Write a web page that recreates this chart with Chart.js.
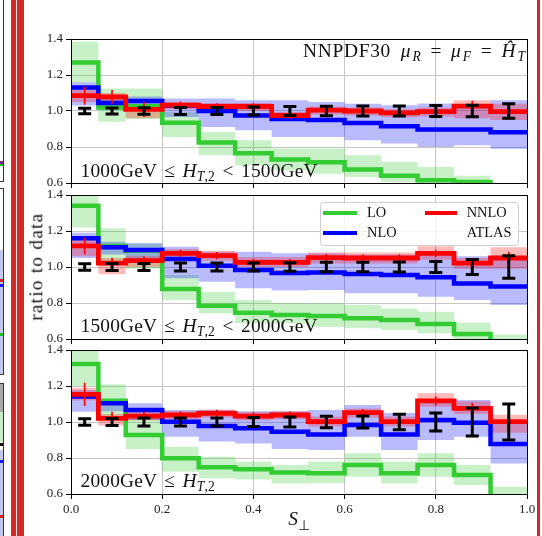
<!DOCTYPE html>
<html><head><meta charset="utf-8">
<script src="https://cdn.jsdelivr.net/npm/chart.js@4.4.1/dist/chart.umd.min.js"></script>
<style>
html,body{margin:0;padding:0;background:#fff;width:542px;height:536px;overflow:hidden;}
canvas{position:absolute;left:0;top:0;z-index:1;}
.t{position:absolute;font-family:"Liberation Serif","Times New Roman",serif;color:#111;white-space:nowrap;line-height:1;z-index:3;}
.sb{font-size:0.7em;position:relative;top:0.36em;}
.ms{margin-left:0.15em;}
.rel{margin:0 0.5em;}
.rel2{margin:0 0.12em;}
.d{position:absolute;z-index:0;}
</style></head>
<body>
<!-- decorations at the page edges -->
<div class="d" style="left:11px;top:0;width:13px;height:536px;background:#d32a25;"></div>
<div class="d" style="left:16px;top:0;width:1px;height:536px;background:#f4dcdc;"></div>
<div class="d" style="left:537px;top:0;width:3px;height:536px;background:#d32a25;"></div>
<div class="d" style="left:3px;top:0;width:1px;height:182px;background:#333;"></div>
<div class="d" style="left:0;top:181px;width:4px;height:1px;background:#333;"></div>
<div class="d" style="left:3px;top:188px;width:1px;height:187px;background:#333;"></div>
<div class="d" style="left:0;top:188px;width:4px;height:1px;background:#333;"></div>
<div class="d" style="left:0;top:374px;width:4px;height:1px;background:#333;"></div>
<div class="d" style="left:3px;top:383px;width:1px;height:153px;background:#333;"></div>
<div class="d" style="left:0;top:383px;width:4px;height:1px;background:#333;"></div>
<div class="d" style="left:0;top:161px;width:3px;height:3px;background:#7a2a8a;"></div>
<div class="d" style="left:0;top:164px;width:3px;height:2px;background:#22bb22;"></div>
<div class="d" style="left:0;top:250px;width:3px;height:124px;background:#c4c8f0;"></div>
<div class="d" style="left:0;top:279px;width:3px;height:3px;background:#e02020;"></div>
<div class="d" style="left:0;top:284px;width:3px;height:3px;background:#1a1aee;"></div>
<div class="d" style="left:0;top:333px;width:3px;height:3px;background:#22bb22;"></div>
<div class="d" style="left:0;top:384px;width:3px;height:28px;background:#a8a8a8;"></div>
<div class="d" style="left:0;top:412px;width:3px;height:30px;background:#c8ecc8;"></div>
<div class="d" style="left:0;top:443px;width:3px;height:3px;background:#111;"></div>
<div class="d" style="left:0;top:450px;width:3px;height:86px;background:#c4c8f0;"></div>
<div class="d" style="left:0;top:460px;width:3px;height:3px;background:#1a1aee;"></div>
<div class="d" style="left:0;top:515px;width:3px;height:3px;background:#e02020;"></div>

<canvas id="c1" width="542" height="536"></canvas>
<canvas id="c2" width="542" height="536"></canvas>
<canvas id="c3" width="542" height="536"></canvas>

<div class="t" style="right:17px;top:40.5px;font-size:19.4px;"><span style="letter-spacing:0.7px;">NNPDF30</span>&nbsp;&nbsp;<i>μ<span class="sb ms">R</span></i><span class="rel">=</span><i>μ<span class="sb ms">F</span></i><span class="rel">=</span><i>Ĥ<span class="sb ms">T</span></i></div>
<div class="t" style="left:80.5px;top:160.5px;font-size:19.4px;letter-spacing:0.2px;">1000GeV <span class="rel2">≤</span> <i>H<span class="sb">T</span></i><span class="sb">,2</span> <span class="rel2">&lt;</span> 1500GeV</div>
<div class="t" style="left:80.5px;top:315.5px;font-size:19.4px;letter-spacing:0.2px;">1500GeV <span class="rel2">≤</span> <i>H<span class="sb">T</span></i><span class="sb">,2</span> <span class="rel2">&lt;</span> 2000GeV</div>
<div class="t" style="left:80.5px;top:470.5px;font-size:19.4px;letter-spacing:0.2px;">2000GeV <span class="rel2">≤</span> <i>H<span class="sb">T</span></i><span class="sb">,2</span></div>
<div class="t" style="left:-64.5px;top:257.3px;width:200px;text-align:center;font-size:19.4px;letter-spacing:1.2px;transform:rotate(-90deg);transform-origin:100px 9.7px;">ratio to data</div>
<div class="t" style="left:199px;top:508.7px;width:200px;text-align:center;font-size:19.4px;"><i>S</i><span class="sb">⊥</span></div>

<div class="t" style="left:320px;top:201.5px;width:197px;height:42.5px;border:1px solid #d0d0d0;border-radius:4px;background:rgba(255,255,255,0.8);z-index:2;"></div>
<div class="d" style="z-index:3;left:323px;top:210.7px;width:34px;height:4px;background:#33cc33;"></div>
<div class="d" style="z-index:3;left:425px;top:210.7px;width:32px;height:4px;background:#ff0000;"></div>
<div class="d" style="z-index:3;left:323px;top:230.7px;width:34px;height:4px;background:#0000ff;"></div>
<div class="t" style="left:367px;top:204.6px;font-size:14.4px;">LO</div>
<div class="t" style="left:466.7px;top:204.6px;font-size:14.4px;">NNLO</div>
<div class="t" style="left:367px;top:224.6px;font-size:14.4px;">NLO</div>
<div class="t" style="left:466.7px;top:224.6px;font-size:14.4px;">ATLAS</div>

<script>
// ---------- data ----------
const edges   = [0, 0.06, 0.12, 0.2, 0.28, 0.36, 0.44, 0.52, 0.6, 0.68, 0.76, 0.84, 0.92, 1.0];
const centers = [0.03, 0.09, 0.16, 0.24, 0.32, 0.40, 0.48, 0.56, 0.64, 0.72, 0.80, 0.88, 0.96];
const xTicks  = [0.0, 0.2, 0.4, 0.6, 0.8, 1.0];
const yTicks  = [0.6, 0.8, 1.0, 1.2, 1.4];
const atlas   = [1, 1, 1, 1, 1, 1, 1, 1, 1, 1, 1, 1, 1];

// 1000 GeV <= HT2 < 1500 GeV
const lo1      = [1.27, 1.02, 1.026, 0.935, 0.825, 0.765, 0.73, 0.715, 0.675, 0.64, 0.615, 0.605, 0.55];
const lo1Low   = [1.16, 0.94, 0.955, 0.856, 0.754, 0.698, 0.671, 0.652, 0.633, 0.606, 0.59, 0.56, 0.5];
const lo1High  = [1.385, 1.125, 1.125, 0.994, 0.883, 0.837, 0.791, 0.791, 0.754, 0.717, 0.689, 0.64, 0.6];
const nlo1     = [1.13, 1.044, 1.056, 1.03, 1.0, 0.975, 0.955, 0.95, 0.933, 0.915, 0.897, 0.897, 0.882];
const nlo1Low  = [1.03, 1.01, 1.02, 0.967, 0.911, 0.893, 0.856, 0.856, 0.837, 0.819, 0.8, 0.81, 0.79];
const nlo1High = [1.16, 1.07, 1.08, 1.069, 1.069, 1.06, 1.06, 1.05, 1.04, 1.032, 1.041, 1.032, 1.06];
const nnlo1    = [1.085, 1.078, 1.009, 1.033, 1.025, 1.025, 0.975, 1.005, 1.0, 0.99, 0.997, 1.027, 0.997];
const nnlo1Low = [1.05, 1.05, 0.96, 1.01, 1.0, 1.0, 0.95, 0.98, 0.975, 0.965, 0.97, 0.96, 0.95];
const nnlo1High= [1.12, 1.10, 1.03, 1.05, 1.045, 1.045, 0.995, 1.025, 1.02, 1.01, 1.02, 1.06, 1.04];
const nnlo1Err = [0.05, 0.038, 0.043, 0.02, 0.018, 0.018, 0.02, 0.02, 0.02, 0.02, 0.02, 0.03, 0.03];
const atlas1Err= [0.015, 0.016, 0.018, 0.02, 0.02, 0.022, 0.025, 0.027, 0.028, 0.028, 0.03, 0.032, 0.04];

// 1500 GeV <= HT2 < 2000 GeV
const lo2      = [1.34, 1.117, 1.09, 0.878, 0.785, 0.746, 0.733, 0.728, 0.715, 0.706, 0.683, 0.628, 0.58];
const lo2Low   = [1.22, 1.03, 0.99, 0.817, 0.743, 0.687, 0.687, 0.668, 0.66, 0.65, 0.632, 0.58, 0.53];
const lo2High  = [1.45, 1.215, 1.13, 0.956, 0.863, 0.817, 0.80, 0.798, 0.789, 0.77, 0.752, 0.69, 0.625];
const nlo2     = [1.16, 1.11, 1.094, 1.044, 1.007, 0.983, 0.967, 0.97, 0.961, 0.956, 0.943, 0.909, 0.891];
const nlo2Low  = [1.05, 1.07, 1.03, 0.937, 0.918, 0.882, 0.87, 0.872, 0.854, 0.854, 0.835, 0.817, 0.789];
const nlo2High = [1.19, 1.14, 1.132, 1.113, 1.085, 1.085, 1.076, 1.076, 1.07, 1.07, 1.07, 1.06, 1.06];
const nnlo2    = [1.117, 1.021, 1.035, 1.076, 1.063, 1.026, 1.026, 1.052, 1.05, 1.05, 1.076, 1.021, 1.05];
const nnlo2Low = [1.06, 0.96, 1.0, 1.045, 1.035, 1.0, 1.0, 1.02, 1.02, 1.02, 1.04, 0.99, 0.99];
const nnlo2High= [1.17, 1.05, 1.06, 1.1, 1.09, 1.055, 1.055, 1.08, 1.08, 1.08, 1.115, 1.05, 1.11];
const nnlo2Err = [0.046, 0.03, 0.025, 0.02, 0.02, 0.018, 0.018, 0.02, 0.02, 0.02, 0.02, 0.02, 0.035];
const atlas2Err= [0.018, 0.02, 0.02, 0.022, 0.022, 0.022, 0.024, 0.026, 0.026, 0.028, 0.03, 0.042, 0.063];

// HT2 >= 2000 GeV
const lo3      = [1.322, 1.118, 0.928, 0.798, 0.748, 0.737, 0.72, 0.715, 0.761, 0.715, 0.761, 0.706, 0.55];
const lo3Low   = [1.2, 1.03, 0.85, 0.724, 0.687, 0.68, 0.659, 0.66, 0.696, 0.659, 0.696, 0.65, 0.5];
const lo3High  = [1.42, 1.21, 1.04, 0.863, 0.807, 0.78, 0.761, 0.78, 0.826, 0.78, 0.826, 0.761, 0.64];
const nlo3     = [1.141, 1.104, 1.067, 1.002, 0.978, 0.965, 0.946, 0.931, 0.983, 0.931, 1.011, 0.996, 0.878];
const nlo3Low  = [1.057, 1.06, 1.011, 0.918, 0.891, 0.88, 0.85, 0.844, 0.918, 0.844, 0.9, 0.918, 0.77];
const nlo3High = [1.178, 1.12, 1.104, 1.067, 1.067, 1.06, 1.06, 1.067, 1.094, 1.05, 1.122, 1.122, 1.0];
const nnlo3    = [1.154, 1.02, 1.033, 1.039, 1.048, 1.033, 1.039, 1.002, 1.052, 1.002, 1.117, 1.076, 1.002];
const nnlo3Low = [1.12, 0.98, 1.01, 1.015, 1.025, 1.01, 1.015, 0.975, 1.025, 0.975, 1.085, 1.045, 0.94];
const nnlo3High= [1.19, 1.045, 1.055, 1.06, 1.07, 1.055, 1.06, 1.03, 1.075, 1.03, 1.16, 1.115, 1.04];
const nnlo3Err = [0.065, 0.037, 0.025, 0.02, 0.02, 0.02, 0.02, 0.02, 0.02, 0.02, 0.025, 0.03, 0.04];
const atlas3Err= [0.018, 0.02, 0.022, 0.022, 0.022, 0.025, 0.028, 0.032, 0.034, 0.043, 0.05, 0.078, 0.1];

// ---------- styling / layout ----------
const FONT = '"Liberation Serif","Times New Roman",serif';
const C_LO = '#33cc33', C_NLO = '#0000ff', C_NNLO = '#ff0000';
const B_LO = 'rgba(50,205,50,0.27)', B_NLO = 'rgba(0,0,255,0.27)', B_NNLO = 'rgba(255,0,0,0.27)';
const PLOT_LEFT = 71, PLOT_RIGHT = 527, Y_AXIS_W = 40;

const panels = [
  {id:'c1', top:39,  bottom:183, xLabels:false, lo:lo1, loL:lo1Low, loH:lo1High, nlo:nlo1, nloL:nlo1Low, nloH:nlo1High, nnlo:nnlo1, nnloL:nnlo1Low, nnloH:nnlo1High, nnloE:nnlo1Err, atE:atlas1Err},
  {id:'c2', top:195, bottom:339, xLabels:false, lo:lo2, loL:lo2Low, loH:lo2High, nlo:nlo2, nloL:nlo2Low, nloH:nlo2High, nnlo:nnlo2, nnloL:nnlo2Low, nnloH:nnlo2High, nnloE:nnlo2Err, atE:atlas2Err},
  {id:'c3', top:350, bottom:494, xLabels:true,  lo:lo3, loL:lo3Low, loH:lo3High, nlo:nlo3, nloL:nlo3Low, nloH:nlo3High, nnlo:nnlo3, nnloL:nnlo3Low, nnloH:nnlo3High, nnloE:nnlo3Err, atE:atlas3Err}
];

function steps(vals){
  return edges.map((e,i)=>({x:e, y:vals[Math.min(i, vals.length-1)]}));
}
function lineDs(label, vals, color, order, width){
  return {label, data:steps(vals), stepped:true, borderColor:color, borderWidth:width, pointRadius:0,
          fill:false, order, clip:0, borderJoinStyle:'miter', borderCapStyle:'butt'};
}
function bandDs(label, vals, color, order, fillTo){
  return {label, data:steps(vals), stepped:true, borderWidth:0, borderColor:'rgba(0,0,0,0)', pointRadius:0,
          backgroundColor:color, fill:fillTo, order, clip:0};
}
const al = v => Math.round(v - 0.5) + 0.5;

const errPlugin = {
  id:'errbars',
  afterDatasetsDraw(chart){
    const ctx = chart.ctx, xs = chart.scales.x, ys = chart.scales.y, a = chart.chartArea;
    ctx.save();
    ctx.beginPath(); ctx.rect(a.left, a.top, a.right - a.left, a.bottom - a.top); ctx.clip();
    chart.data.datasets.forEach(ds => {
      if (!ds.errors) return;
      ds.data.forEach((p, i) => {
        const x = xs.getPixelForValue(p.x);
        const y1 = ys.getPixelForValue(p.y - ds.errors[i]);
        const y2 = ys.getPixelForValue(p.y + ds.errors[i]);
        ctx.strokeStyle = ds.errColor; ctx.lineWidth = ds.errWidth; ctx.lineCap = 'butt';
        ctx.beginPath(); ctx.moveTo(x, y1); ctx.lineTo(x, y2); ctx.stroke();
        if (ds.capHalf > 0) {
          ctx.lineWidth = ds.capWidth;
          ctx.beginPath();
          ctx.moveTo(x - ds.capHalf, y1); ctx.lineTo(x + ds.capHalf, y1);
          ctx.moveTo(x - ds.capHalf, y2); ctx.lineTo(x + ds.capHalf, y2);
          ctx.stroke();
        }
      });
    });
    ctx.restore();
    // frame (spines)
    ctx.save();
    ctx.strokeStyle = '#000'; ctx.lineWidth = 1;
    ctx.strokeRect(al(a.left), al(a.top), al(a.right) - al(a.left), al(a.bottom) - al(a.top));
    ctx.restore();
  }
};

panels.forEach(p => {
  const xH = p.xLabels ? 25 : 6;
  const datasets = [
    lineDs('NNLO', p.nnlo, C_NNLO, 1, 4.8),
    lineDs('NLO',  p.nlo,  C_NLO,  2, 4.5),
    lineDs('LO',   p.lo,   C_LO,   3, 4.5),
    bandDs('NNLO band high', p.nnloH, B_NNLO, 4, '+1'),
    bandDs('NNLO band low',  p.nnloL, B_NNLO, 4, false),
    bandDs('NLO band high',  p.nloH,  B_NLO,  5, '+1'),
    bandDs('NLO band low',   p.nloL,  B_NLO,  5, false),
    bandDs('LO band high',   p.loH,   B_LO,   6, '+1'),
    bandDs('LO band low',    p.loL,   B_LO,   6, false),
    {label:'NNLO stat', type:'scatter', data:centers.map((c,i)=>({x:c, y:p.nnlo[i]})), pointRadius:0, showLine:false,
     errors:p.nnloE, errColor:C_NNLO, errWidth:1.7, capHalf:0, capWidth:0, order:0},
    {label:'ATLAS', type:'scatter', data:centers.map((c,i)=>({x:c, y:atlas[i]})), pointRadius:0, showLine:false,
     errors:p.atE, errColor:'#000', errWidth:3, capHalf:6.5, capWidth:3, order:0}
  ];
  new Chart(document.getElementById(p.id), {
    type:'line',
    data:{datasets},
    plugins:[errPlugin],
    options:{
      responsive:false, animation:false, devicePixelRatio:1, events:[],
      layout:{padding:{left:PLOT_LEFT - Y_AXIS_W, right:542 - PLOT_RIGHT, top:p.top, bottom:536 - p.bottom - xH}},
      plugins:{legend:{display:false}, tooltip:{enabled:false}, filler:{propagate:false}},
      scales:{
        x:{type:'linear', min:0, max:1,
           afterBuildTicks: s => { s.ticks = xTicks.map(v => ({value:v})); },
           afterFit: s => { s.height = xH; },
           ticks:{display:p.xLabels, padding:3, color:'#222', font:{family:FONT, size:13},
                  maxRotation:0, autoSkip:false, callback: v => Number(v).toFixed(1)},
           grid:{color:'#c6c6c6', lineWidth:1, tickLength:5, tickColor:'#000', drawTicks:true},
           border:{display:true, color:'#000', width:1}},
        y:{type:'linear', min:0.6, max:1.4,
           afterBuildTicks: s => { s.ticks = yTicks.map(v => ({value:v})); },
           afterFit: s => { s.width = Y_AXIS_W; },
           ticks:{padding:3, color:'#222', font:{family:FONT, size:13}, autoSkip:false,
                  callback: v => Number(v).toFixed(1)},
           grid:{color:'#c6c6c6', lineWidth:1, tickLength:5, tickColor:'#000', drawTicks:true},
           border:{display:true, color:'#000', width:1}}
      }
    }
  });
});
</script>
</body></html>
